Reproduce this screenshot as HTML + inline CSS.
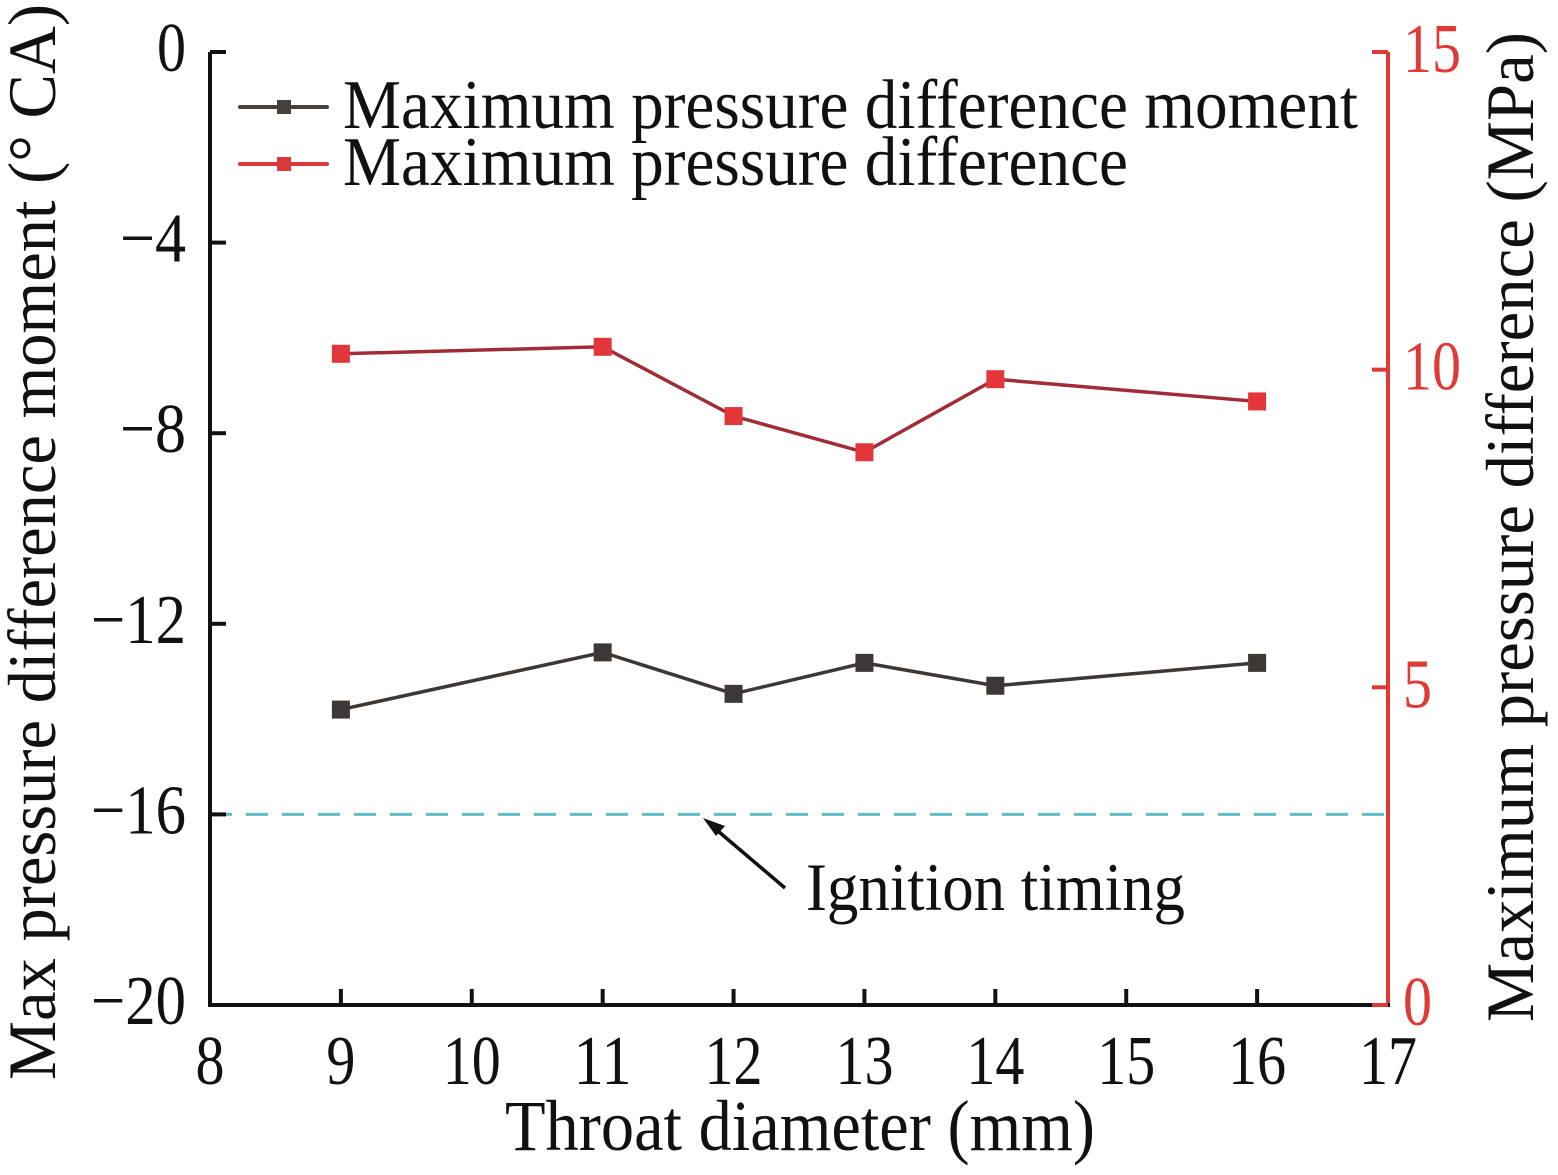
<!DOCTYPE html>
<html><head><meta charset="utf-8">
<style>
html,body{margin:0;padding:0;background:#fff;}
svg{display:block;font-family:"Liberation Serif",serif;}
</style></head>
<body>
<svg id="chart" width="1558" height="1175" viewBox="0 0 1558 1175" xmlns="http://www.w3.org/2000/svg"></svg>
<script>
const xCats = [9, 11, 12, 13, 14, 16];
const momentVals = [-13.8, -12.6, -13.47, -12.82, -13.3, -12.82];
const pressureVals = [10.25, 10.36, 9.27, 8.7, 9.85, 9.5];
const xTicks = [8, 9, 10, 11, 12, 13, 14, 15, 16, 17];
const leftTicks = [0, -4, -8, -12, -16, -20];
const rightTicks = [15, 10, 5, 0];
const ignitionTiming = -16;

const X0 = 210, X1 = 1388, Y0 = 52, Y1 = 1005;
const xs = v => X0 + (v - 8) / 9 * (X1 - X0);
const yl = v => Y0 + (0 - v) / 20 * (Y1 - Y0);
const yr = v => Y1 - v / 15 * (Y1 - Y0);
const NS = "http://www.w3.org/2000/svg";
const svg = document.getElementById('chart');
function mk(tag, attrs, parent) {
  const e = document.createElementNS(NS, tag);
  for (const k in attrs) e.setAttribute(k, attrs[k]);
  (parent || svg).appendChild(e);
  return e;
}
const DW = 29; // digit width
// dashed ignition line
let e = mk('line', {x1: X0, x2: X1, y1: yl(ignitionTiming), y2: yl(ignitionTiming), stroke: '#5fbfc0', 'stroke-width': 3, 'stroke-dasharray': '22 14'});


// axes
e = mk('line', {x1: X0, x2: X0, y1: Y0, y2: Y1, stroke: '#111', 'stroke-width': 4});


e = mk('line', {x1: X0 - 2, x2: X1 + 2, y1: Y1, y2: Y1, stroke: '#111', 'stroke-width': 4});


e = mk('line', {x1: X1, x2: X1, y1: Y0, y2: Y1 - 2, stroke: '#e03a36', 'stroke-width': 4});


// x ticks
xTicks.forEach(v => {
  const x = xs(v);
  if (v > 8 && v < 17) {
    const t = mk('line', {x1: x, x2: x, y1: Y1, y2: Y1 - 16, stroke: '#111', 'stroke-width': 4});
    
    
  }
  const s = String(v);
  const l = mk('text', {x: x, y: 1084, 'font-size': 70, 'text-anchor': 'middle', fill: '#111', textLength: s.length * DW, lengthAdjust: 'spacingAndGlyphs'});
  l.textContent = s;
  
  
});
leftTicks.forEach(v => {
  const y = yl(v);
  const t = mk('line', {x1: X0, x2: X0 + 16, y1: y, y2: y, stroke: '#111', 'stroke-width': 4});
  
  
  const s = v < 0 ? '\u2212' + Math.abs(v) : String(v);
  const w = (v < 0 ? 37 : 0) + String(Math.abs(v)).length * DW;
  const l = mk('text', {x: 186, y: y + 19, 'font-size': 70, 'text-anchor': 'end', fill: '#111', textLength: w, lengthAdjust: 'spacingAndGlyphs'});
  l.textContent = s;
  
  
});
rightTicks.forEach(v => {
  const y = yr(v);
  const t = mk('line', {x1: X1, x2: X1 - 16, y1: y, y2: y, stroke: '#e03a36', 'stroke-width': 4});
  
  
  const s = String(v);
  const l = mk('text', {x: 1403, y: y + 20, 'font-size': 70, 'text-anchor': 'start', fill: '#e03a36', textLength: s.length * DW, lengthAdjust: 'spacingAndGlyphs'});
  l.textContent = s;
  
  
});
// series
function series(vals, yf, lineCol, markCol, name) {
  const pts = xCats.map((c, i) => xs(c) + ',' + yf(vals[i])).join(' ');
  const pl = mk('polyline', {points: pts, fill: 'none', stroke: lineCol, 'stroke-width': 3.5});
  
  
  xCats.forEach((c, i) => {
    const r = mk('rect', {x: xs(c) - 9, y: yf(vals[i]) - 9, width: 18, height: 18, fill: markCol});
    
    
  });
}
series(momentVals, yl, '#3d3735', '#3d3735', 'moment-series');
series(pressureVals, yr, '#a02c36', '#e2363a', 'pressure-series');
// legend
function legend(y, lc, mc, txt, len, name) {
  const g = mk('g', {});
  
  
  mk('line', {x1: 240, x2: 327, y1: y, y2: y, stroke: lc, 'stroke-width': 4, 'stroke-linecap': 'round'}, g);
  mk('rect', {x: 277, y: y - 7, width: 14, height: 14, fill: mc}, g);
  const t = mk('text', {x: 343, y: y + 21, 'font-size': 70, fill: '#111', textLength: len, lengthAdjust: 'spacingAndGlyphs'}, g);
  t.textContent = txt;
}
legend(107, '#4a403b', '#4a403b', 'Maximum pressure difference moment', 1015, 'legend-entry-moment');
legend(164, '#d9393a', '#d9393a', 'Maximum pressure difference', 785, 'legend-entry-pressure');
// annotation
e = mk('line', {x1: 785, x2: 712, y1: 888, y2: 826, stroke: '#111', 'stroke-width': 3.5});


e = mk('polygon', {points: '703,818 725,826 716,836', fill: '#111'});


e = mk('text', {x: 806, y: 910, 'font-size': 68, fill: '#111', textLength: 379, lengthAdjust: 'spacingAndGlyphs'});
e.textContent = 'Ignition timing';


// axis titles
e = mk('text', {x: 505, y: 1150, 'font-size': 72, fill: '#111', textLength: 590, lengthAdjust: 'spacingAndGlyphs'});
e.textContent = 'Throat diameter (mm)';


e = mk('text', {x: -1080, y: 55, 'font-size': 68, fill: '#111', transform: 'rotate(-90)', textLength: 1076, lengthAdjust: 'spacingAndGlyphs'});
e.textContent = 'Max pressure difference moment (\u00b0 CA)';


e = mk('text', {x: -1022, y: 1533, 'font-size': 68, fill: '#111', transform: 'rotate(-90)', textLength: 990, lengthAdjust: 'spacingAndGlyphs'});
e.textContent = 'Maximum pressure difference (MPa)';


</script>
</body></html>
